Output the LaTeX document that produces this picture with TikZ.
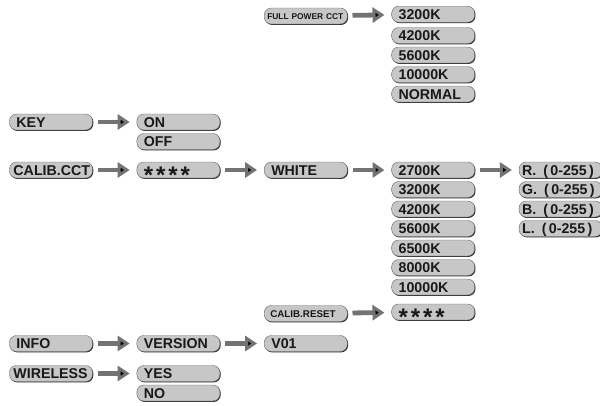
\documentclass[tikz,border=0pt]{standalone}
\usepackage{fontspec}
\setmainfont{Liberation Sans}
\usepackage{tikz}
\usetikzlibrary{matrix,arrows.meta,shadows,calc}

\newcommand{\starrow}{\raisebox{-8.5pt}{\fontsize{24}{24}\selectfont\addfontfeature{LetterSpace=12}****}}

\begin{document}
\begin{tikzpicture}[
  box/.style={draw=black!60, line width=0.4pt, fill=black!22, rounded corners=7pt,
    minimum height=16pt, text width=69pt, inner xsep=7pt, inner ysep=0pt, align=left,
    text height=10pt, text depth=0pt, text=black!90,
    font=\bfseries\fontsize{14.2}{14}\selectfont,
    drop shadow={shadow xshift=0.8pt, shadow yshift=-0.9pt, fill=black!85, opacity=1}},
  wide/.style={inner xsep=3pt, text width=77pt},
  tiny/.style={font=\bfseries\fontsize{8.4}{9}\selectfont, text height=6.5pt, inner xsep=3pt, text width=77pt},
  arr/.style={draw=black!55, line width=4.8pt, -{Triangle[length=12pt,width=15pt]}, shorten <=5pt, shorten >=7pt}
]
  \matrix (m) [matrix of nodes, nodes={box}, row sep=3.1pt, column sep=44pt]
  {
    & & |[tiny]| FULL POWER CCT & 3200K & \\
    & & & 4200K & \\
    & & & 5600K & \\
    & & & 10000K & \\
    & & & NORMAL & \\[8.5pt]
    KEY & ON & & & \\
    & OFF & & & \\[9pt]
    |[wide, inner xsep=4pt, text width=75pt]| CALIB.CCT & \starrow & WHITE & 2700K & |[wide]| R.\enspace(\,0-255\,) \\
    & & & 3200K & |[wide]| G.\enspace(\,0-255\,) \\
    & & & 4200K & |[wide]| B.\enspace(\,0-255\,) \\
    & & & 5600K & |[wide]| L.\enspace(\,0-255\,) \\
    & & & 6500K & \\
    & & & 8000K & \\
    & & & 10000K & \\[5.5pt]
    & & |[tiny, font=\bfseries\fontsize{9.8}{10}\selectfont, text height=7pt, inner xsep=6pt, text width=71pt]| CALIB.RESET & \starrow & \\[10.5pt]
    INFO & VERSION & V01 & & \\[10.5pt]
    |[wide, inner xsep=4pt, text width=75pt]| WIRELESS & YES & & & \\
    & NO & & & \\
  };
  \path[arr]
  (m-1-3) edge (m-1-4)
  (m-6-1) edge (m-6-2)
  (m-8-1) edge (m-8-2)
  (m-8-2) edge (m-8-3)
  (m-8-3) edge (m-8-4)
  (m-8-4) edge (m-8-5)
  (m-15-3) edge (m-15-4)
  (m-16-1) edge (m-16-2)
  (m-16-2) edge (m-16-3)
  (m-17-1) edge (m-17-2)
  ;
  \pgfresetboundingbox
  \useasboundingbox ($(m-6-1.center)+(-51pt,122pt)$) rectangle ++(600pt,-405pt);
\end{tikzpicture}
\end{document}
